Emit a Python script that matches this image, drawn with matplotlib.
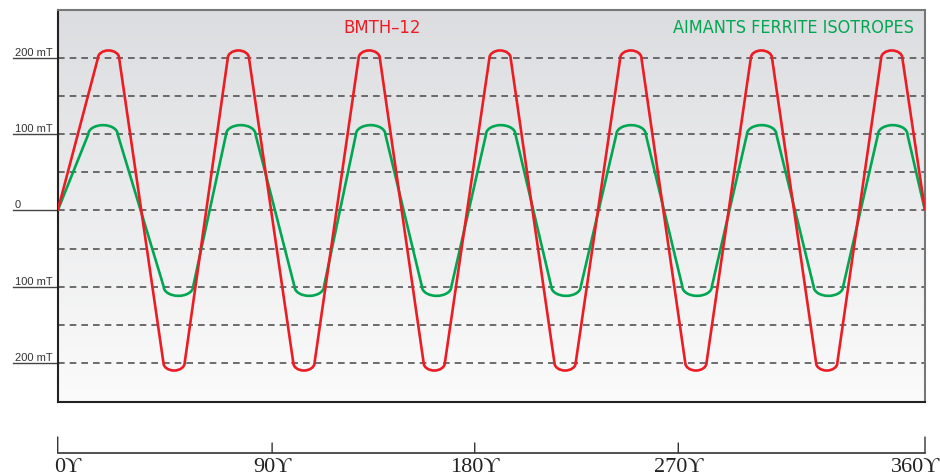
import numpy as np
import matplotlib
matplotlib.use("Agg")
import matplotlib.pyplot as plt
from matplotlib.path import Path
from matplotlib.patches import PathPatch
from matplotlib import font_manager
from matplotlib.transforms import ScaledTranslation, blended_transform_factory

# データ（横軸は度、縦軸は mT）
red_peak_x = [21.1, 75.0, 129.3, 183.6, 237.9, 292.1, 346.2]
red_valley_x = [48.3, 102.2, 156.3, 210.6, 264.9, 319.2]
red_level = 200
red_extreme = 210
red_half_width = 4.4

green_peak_x = [18.8, 76.0, 129.9, 183.9, 238.0, 292.2, 346.6]
green_valley_x = [50.1, 104.4, 157.3, 211.0, 265.4, 319.9]
green_level = 100
green_extreme = 112
green_half_width = 6.1

grid_levels = [-200, -150, -100, -50, 0, 50, 100, 150, 200]
label_levels = [200, 100, 0, -100, -200]
label_texts = ["200 mT", "100 mT", "0", "100 mT", "200 mT"]

deg_ticks = [0, 89.0, 173.1, 257.6, 360]
deg_labels = ["0ϒ", "90ϒ", "180ϒ", "270ϒ", "360ϒ"]
deg_long = [True, False, False, False, True]

series_names = ["BMTH–12", "AIMANTS FERRITE ISOTROPES"]

RED = "#ed1c24"
GREEN = "#00a651"
K = 0.5523  # ベジェ曲線で楕円を近似する係数


def wave_path(peaks, valleys, level, extreme, hw):
    # 山と谷を交互に並べ、台形波の角を丸めたパスを作る
    turns = sorted([(x, 1) for x in peaks] + [(x, -1) for x in valleys])
    verts = [(0, 0)]
    codes = [Path.MOVETO]
    for c, s in turns:
        L = s * level
        E = s * extreme
        verts += [(c - hw, L),
                  (c - hw, L + K * (E - L)), (c - K * hw, E), (c, E),
                  (c + K * hw, E), (c + hw, L + K * (E - L)), (c + hw, L)]
        codes += [Path.LINETO] + [Path.CURVE4] * 6
    verts.append((360, 0))
    codes.append(Path.LINETO)
    return Path(verts, codes)


def narrow_font():
    # 細長いフォントがあれば使う
    for f in font_manager.fontManager.ttflist:
        if f.name == "Liberation Sans Narrow":
            return dict(family="Liberation Sans Narrow")
    for f in font_manager.fontManager.ttflist:
        if f.name == "DejaVu Sans" and str(f.stretch) in ("condensed", "semi-condensed"):
            return dict(family="DejaVu Sans", fontstretch=f.stretch)
    return None


def fit_width(fig, txt, width_px):
    # 文字幅を参照画像に合わせる
    r = fig.canvas.get_renderer()
    w = txt.get_window_extent(r).width
    txt.set_fontsize(txt.get_fontsize() * width_px / w)


def plot_chart():
    fig = plt.figure(figsize=(9.4, 4.74), dpi=100)
    ax = fig.add_axes([57.7 / 940, 72 / 474, 867.3 / 940, 392 / 474])
    ax.set_xlim(0, 360)
    ax.set_ylim(-251.3, 263.1)

    # 背景のグラデーション
    grad = np.linspace(0, 1, 256).reshape(-1, 1)
    top = np.array([220, 221, 224]) / 255
    bot = np.array([251, 251, 251]) / 255
    img = top + (bot - top) * grad[:, :, None]
    ax.imshow(img, extent=[0, 1, 0, 1], transform=ax.transAxes,
              aspect="auto", zorder=0, interpolation="bilinear")

    # 破線グリッド
    for lv in grid_levels:
        ax.axhline(lv, color="#555555", lw=1.2, ls=(0, (4, 3)), zorder=1)

    # 波形
    ax.add_patch(PathPatch(wave_path(green_peak_x, green_valley_x, green_level,
                                     green_extreme, green_half_width),
                           facecolor="none", edgecolor=GREEN, lw=1.9,
                           joinstyle="round", zorder=3))
    ax.add_patch(PathPatch(wave_path(red_peak_x, red_valley_x, red_level,
                                     red_extreme, red_half_width),
                           facecolor="none", edgecolor=RED, lw=1.9,
                           joinstyle="round", zorder=4))

    # 左側の目盛り線とラベル
    trans = ax.get_yaxis_transform()
    for lv, txt in zip(label_levels, label_texts):
        ax.plot([-0.0515, 0], [lv, lv], color="#444444", lw=1.0,
                transform=trans, clip_on=False)
        ax.text(-0.0492, lv, txt, transform=trans, ha="left", va="bottom",
                fontsize=8, color="#333333", family=["Liberation Sans", "DejaVu Sans"])
    ax.set_xticks([])
    ax.set_yticks([])

    for side in ["left", "bottom"]:
        ax.spines[side].set_color("#222222")
        ax.spines[side].set_linewidth(1.5)
    for side in ["top", "right"]:
        ax.spines[side].set_color("#777777")
        ax.spines[side].set_linewidth(1.5)

    # 凡例テキスト
    fkw = narrow_font()
    if fkw is None:
        fkw = dict(family=["Liberation Sans", "DejaVu Sans"])
    t1 = fig.text(382 / 940, 1 - 28 / 474, series_names[0], ha="center", va="center",
                  fontsize=14, color=RED, **fkw)
    t2 = fig.text(914 / 940, 1 - 28 / 474, series_names[1],
                  ha="right", va="center", fontsize=14, color=GREEN, **fkw)
    fit_width(fig, t1, 78)
    fit_width(fig, t2, 243)

    # 下の角度スケール
    ax2 = fig.add_axes([57.7 / 940, (474 - 452.5) / 474, 867.3 / 940, 0.01])
    ax2.set_xlim(0, 360)
    ax2.set_ylim(0, 1)
    ax2.patch.set_visible(False)
    for side in ["left", "right", "top"]:
        ax2.spines[side].set_visible(False)
    ax2.spines["bottom"].set_color("#333333")
    ax2.spines["bottom"].set_linewidth(1.2)
    ax2.set_yticks([])
    ax2.set_xticks([])
    btrans = blended_transform_factory(ax2.transData, ax2.transAxes)
    n = len(deg_ticks)
    for i, (pos, lab, longtick) in enumerate(zip(deg_ticks, deg_labels, deg_long)):
        ln = 15.5 if longtick else 9.5
        ax2.plot([pos, pos], [0, 0], color="#333333", lw=1.0)
        ax2.annotate("", xy=(pos, 0), xycoords=btrans,
                     xytext=(0, ln * 0.72), textcoords="offset points",
                     arrowprops=dict(arrowstyle="-", color="#333333", lw=1.0,
                                     shrinkA=0, shrinkB=0))
        if i == 0:
            ha, dx = "left", -4
        elif i == n - 1:
            ha, dx = "right", 15
        else:
            ha, dx = "center", 0
        off = ScaledTranslation(dx / 100, -5.5 / 100, fig.dpi_scale_trans)
        ax2.text(pos, 0, lab, transform=btrans + off, ha=ha, va="top",
                 fontsize=16, color="#222222", clip_on=False,
                 family=["Liberation Serif", "DejaVu Serif"])

    fig.savefig("out.png", dpi=100)


if __name__ == "__main__":
    plot_chart()
